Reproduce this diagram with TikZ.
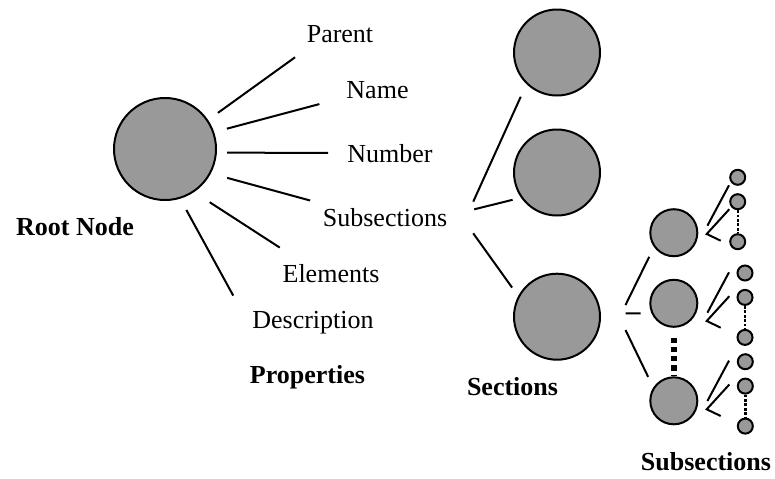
\documentclass[tikz,border=0pt]{standalone}
\usepackage{fontspec}
\setmainfont{Liberation Serif}
\usetikzlibrary{positioning}
\definecolor{nodegray}{RGB}{153,153,153}

\begin{document}
\begin{tikzpicture}[
    x=0.5pt, y=-0.5pt,
    font=\fontsize{13pt}{15pt}\selectfont,
    bubble/.style={draw, circle, fill=nodegray, line width=1pt, inner sep=0pt},
    rootnode/.style={bubble, minimum size=51pt},
    section/.style={bubble, minimum size=43pt},
    subsection/.style={bubble, minimum size=23.5pt},
    leaf/.style={bubble, minimum size=7.5pt},
    prop/.style={inner sep=0pt, text height=9pt, text depth=3pt, anchor=base},
    title/.style={prop, font=\fontsize{13pt}{15pt}\selectfont\bfseries},
    link/.style={draw, line width=1pt},
    thickdots/.style={draw, line width=3.2pt, dash pattern=on 2.6pt off 2pt},
    thindots/.style={draw, line width=1.2pt, dash pattern=on 1.4pt off 0.8pt}
]
    \useasboundingbox (0,0) rectangle (775,478);

    \node[rootnode] (root) at (165,149) {};
    \node[title] (rootlbl) at (75,235) {Root Node};
    \node[prop] (parent) at (340,42.7) {Parent};
    \node[prop] (name) at (377.5,98) {Name};
    \node[prop] (number) at (390,162.7) {Number};
    \node[prop] (subsecs) at (385,226.7) {Subsections};
    \node[prop] (elements) at (331,282.7) {Elements};
    \node[prop] (descr) at (313,328.3) {Description};
    \node[title] (proptitle) at (307.5,383.3) {Properties};

    \node[section] (sec1) at (557,52.5) {};
    \node[section, below=16pt of sec1] (sec2) {};
    \node[section, below=28.1pt of sec2] (sec3) {};
    \node[title] (sectitle) at (512.5,395) {Sections};

    \node[subsection] (subA) at (673.8,232.7) {};
    \node[subsection, below=10.8pt of subA] (subB) {};
    \node[subsection, below=24.25pt of subB] (subC) {};
    \node[title] (subtitle) at (706,470) {Subsections};

    \draw[link, shorten <=6pt, shorten >=7pt] (root.34) -- (parent.south west);
    \draw[link, shorten <=6.6pt, shorten >=13.8pt] (root.19) -- (name.189);
    \draw[link, shorten <=5.1pt, shorten >=9.4pt] (root.-4) -- (number.175);
    \draw[link, shorten <=8.4pt, shorten >=14.8pt] (root.-28) -- (subsecs.165);
    \draw[link, shorten <=9.3pt, shorten >=15.4pt] (root.-56) -- (elements.154);
    \draw[link, shorten <=6.4pt, shorten >=19.5pt] (root.-73) -- (descr.187);

    \draw[link, shorten >=6.9pt] ([shift={(25.7,-19)}]subsecs.east) -- (sec1.226);
    \draw[link, shorten >=4.3pt] ([shift={(26.7,-11.4)}]subsecs.east) -- (sec2.215);
    \draw[link, shorten >=5.2pt] ([shift={(25.7,12.6)}]subsecs.east) -- (sec3.152);

    \draw[link, shorten >=5.4pt] ([shift={(24.5,-11.7)}]sec3.east) -- (subA.216);
    \draw[link, shorten >=5.4pt] ([shift={(24.5,-3.4)}]sec3.east) -- (subB.204);
    \draw[link, shorten >=5.9pt] ([shift={(24.5,13.3)}]sec3.east) -- (subC.147);
    \draw[thickdots, shorten <=5pt] (subB.south) -- (subC.north);

    \foreach \g/\dy/\lx/\ly in {A/1.3/737.7/177.3, B/17.7/745/273, C/8.5/745.3/361.7} {
        \node[leaf] (leaf\g1) at (\lx,\ly) {};
        \node[leaf, below=3.7pt of leaf\g1] (leaf\g2) {};
        \node[leaf, below=11.5pt of leaf\g2] (leaf\g3) {};
        \draw[thindots] (leaf\g2) -- (leaf\g3);
        \coordinate (fork\g) at ([shift={(8.4,\dy)}]sub\g.east);
        \draw[link] ([shift={(0.7,-8.3)}]fork\g) -- ([shift={(22.3,-48.7)}]fork\g);
        \draw[link] ([shift={(22.6,-24.8)}]fork\g) -- (fork\g) -- ([shift={(14,6.7)}]fork\g);
    }
\end{tikzpicture}
\end{document}
